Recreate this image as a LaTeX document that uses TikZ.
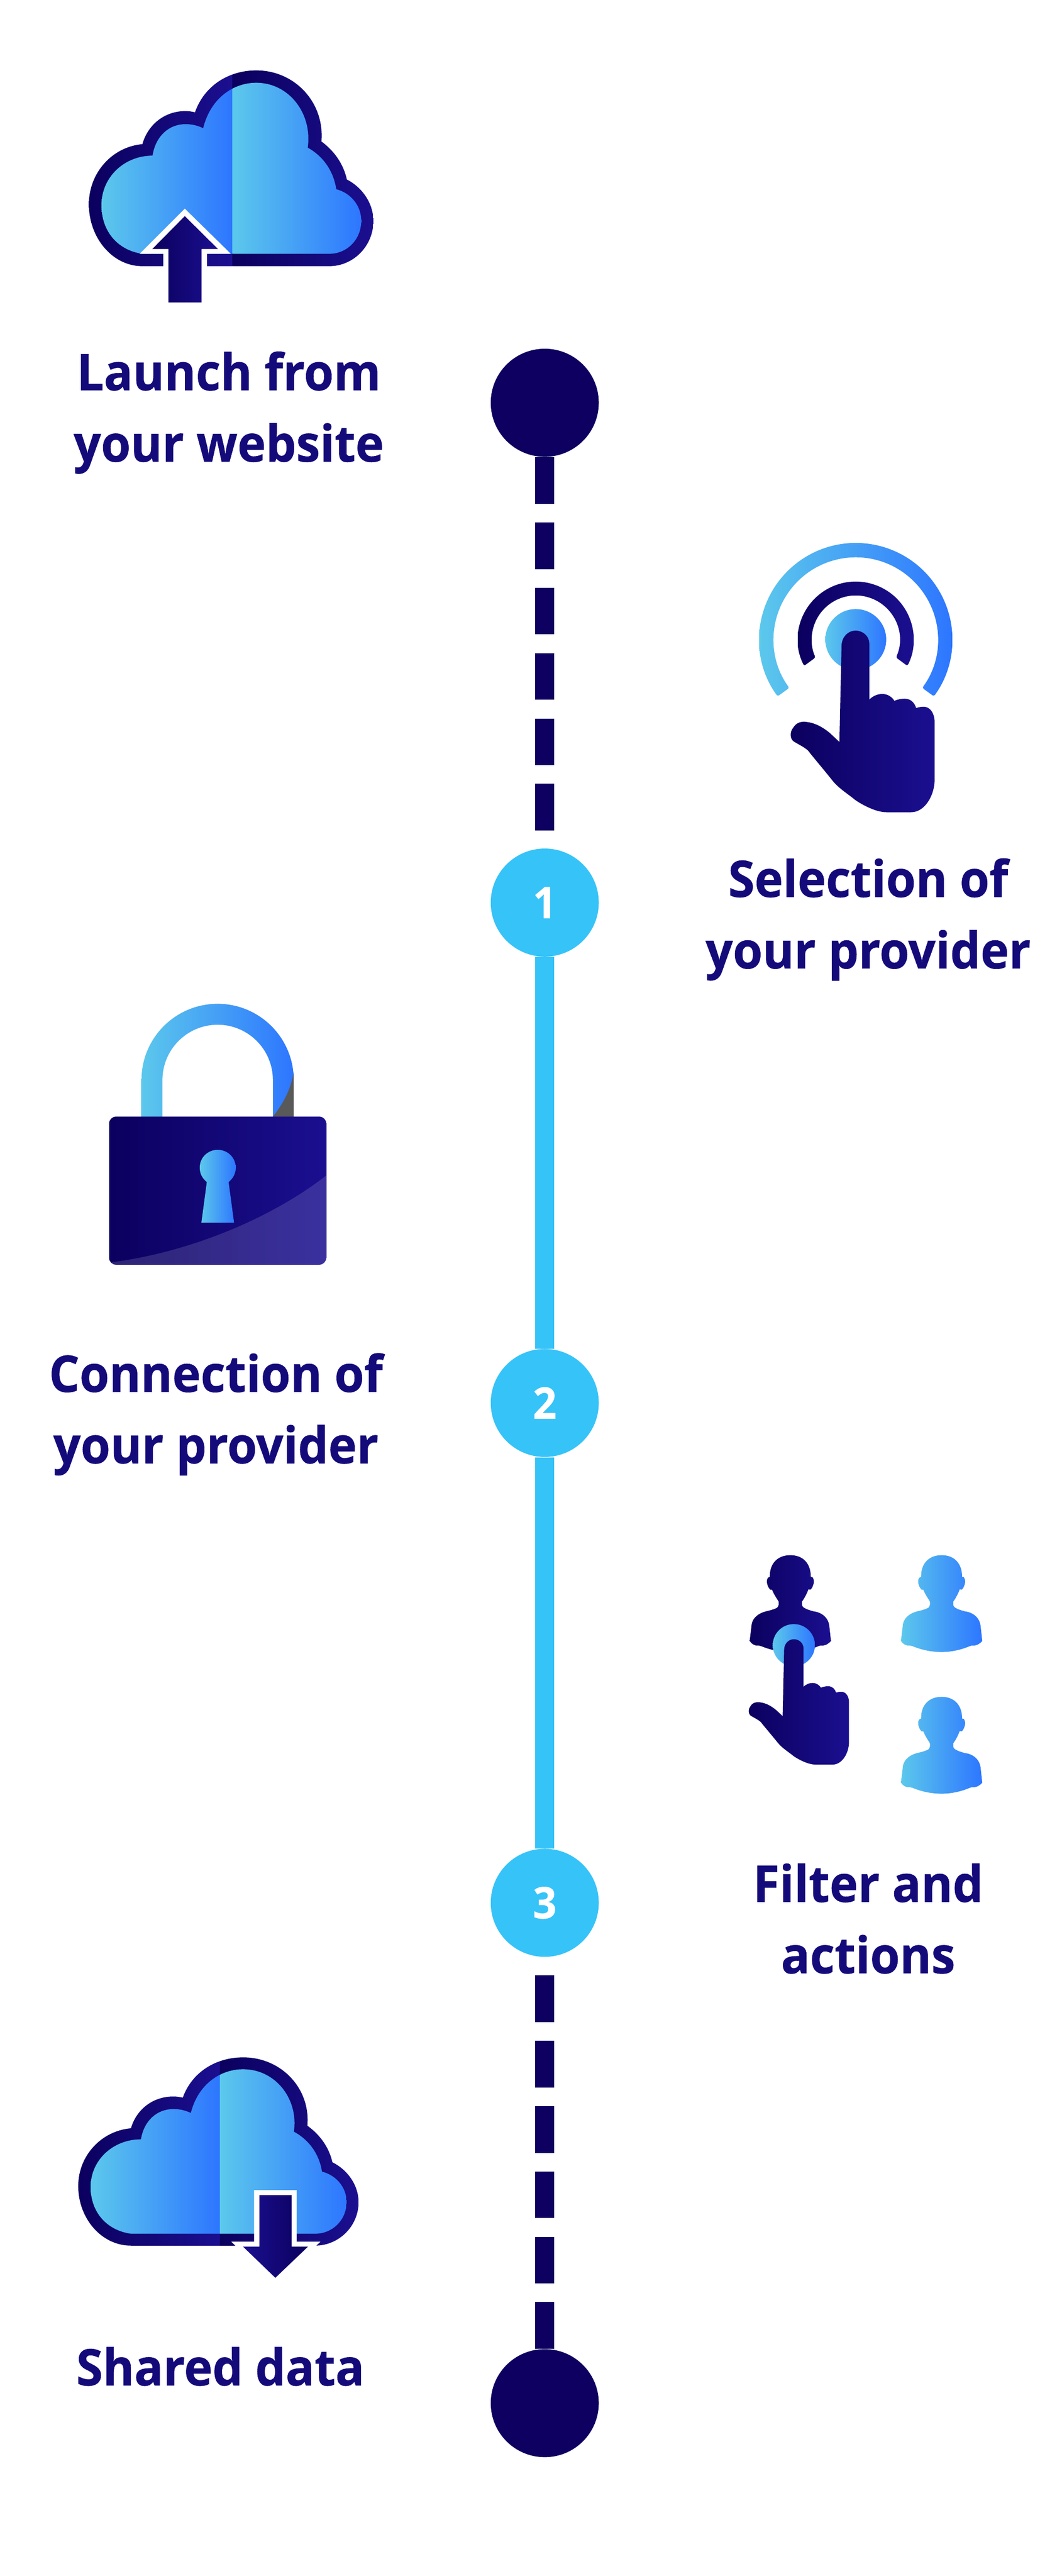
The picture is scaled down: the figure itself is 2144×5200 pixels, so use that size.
\documentclass[tikz,border=0pt]{standalone}
\usepackage{fontspec}
\setmainfont{Open Sans}[BoldFeatures={FakeStretch=0.95,FakeBold=0.6}]
\definecolor{lightg}{HTML}{5CC8EC}
\definecolor{blueg}{HTML}{2D76FF}
\definecolor{darka}{HTML}{0B005E}
\definecolor{darkb}{HTML}{1B0F90}
\definecolor{navy}{HTML}{0D0060}
\definecolor{sky}{HTML}{36C3F8}
\definecolor{txt}{HTML}{140A7A}
\newcommand{\gradfill}[7]{\begin{scope}\clip #1;\shade[left color=#6,right color=#7,draw=none] (#2,#3) rectangle (#4,#5);\end{scope}}
\newcommand{\cloudouter}{(420,1225) -- (1265,1225) .. controls (1375,1225) and (1465,1110) .. (1465,970) .. controls (1465,870) and (1415,780) .. (1345,735) .. controls (1330,650) and (1290,575) .. (1230,520) .. controls (1245,300) and (1110,118) .. (935,118) .. controls (810,118) and (700,205) .. (658,355) .. controls (645,351) and (630,348) .. (615,348) .. controls (520,348) and (445,425) .. (420,535) .. controls (285,550) and (178,695) .. (178,875) .. controls (178,1065) and (285,1225) .. (420,1225) -- cycle}
\newcommand{\cloudinner}{(420,1155) -- (1265,1155) .. controls (1345,1155) and (1410,1075) .. (1410,968) .. controls (1410,880) and (1360,810) .. (1297,790) .. controls (1285,690) and (1240,605) .. (1168,555) .. controls (1190,365) and (1085,188) .. (935,188) .. controls (835,188) and (730,270) .. (695,445) .. controls (670,430) and (645,422) .. (615,422) .. controls (540,422) and (480,490) .. (466,600) .. controls (340,600) and (235,720) .. (235,880) .. controls (235,1030) and (310,1135) .. (420,1155) -- cycle}
\newcommand{\cloudicon}{%
 \gradfill{\cloudouter}{178}{100}{828}{1240}{darka}{darkb}%
 \gradfill{\cloudouter}{828}{100}{1465}{1240}{darka}{darkb}%
 \gradfill{\cloudinner}{235}{180}{828}{1160}{lightg}{blueg}%
 \gradfill{\cloudinner}{828}{180}{1410}{1160}{lightg}{blueg}}
\newcommand{\handpath}{(735,1195) -- (748,690) .. controls (748,640) and (790,608) .. (832,608) .. controls (880,608) and (916,640) .. (916,675) -- (916,972) .. controls (940,950) and (970,942) .. (995,942) .. controls (1030,942) and (1055,960) .. (1068,978) .. controls (1090,970) and (1110,967) .. (1130,967) .. controls (1170,967) and (1190,990) .. (1200,1016) .. controls (1220,1010) and (1240,1008) .. (1255,1010) .. controls (1290,1015) and (1312,1050) .. (1312,1090) -- (1312,1390) .. controls (1312,1480) and (1250,1565) .. (1170,1565) -- (1020,1565) .. controls (960,1565) and (880,1530) .. (830,1500) .. controls (790,1470) and (730,1440) .. (690,1395) .. controls (640,1340) and (590,1290) .. (545,1240) .. controls (520,1220) and (480,1205) .. (455,1190) .. controls (435,1175) and (435,1140) .. (455,1120) .. controls (475,1090) and (510,1085) .. (540,1090) .. controls (590,1095) and (640,1120) .. (680,1150) -- cycle}
\newcommand{\personpath}{(452,288) .. controls (530,288) and (572,340) .. (572,415) -- (582,417) .. controls (592,430) and (592,450) .. (585,465) .. controls (580,480) and (572,490) .. (568,490) -- (558,488) .. controls (550,510) and (535,540) .. (520,560) -- (520,575) .. controls (520,590) and (530,595) .. (540,600) .. controls (560,610) and (585,617) .. (605,620) .. controls (645,630) and (675,660) .. (680,700) -- (690,790) .. controls (675,808) and (655,820) .. (630,817) -- (618,820) .. controls (560,845) and (500,855) .. (452,855) .. controls (400,855) and (340,845) .. (280,820) -- (265,817) .. controls (245,820) and (225,808) .. (214,790) -- (226,690) .. controls (235,650) and (270,628) .. (305,618) .. controls (330,612) and (360,605) .. (375,595) .. controls (385,585) and (385,575) .. (383,558) .. controls (368,535) and (355,515) .. (345,490) -- (335,490) .. controls (325,480) and (315,465) .. (315,440) .. controls (315,425) and (322,417) .. (332,415) .. controls (330,340) and (375,288) .. (452,288) -- cycle}
\tikzset{
 stop/.style={circle,fill=navy,minimum size=2.18cm,inner sep=0pt},
 numstop/.style={circle,fill=sky,minimum size=2.18cm,inner sep=0pt,text=white,font=\fontsize{25}{25}\selectfont\bfseries},
 dashlink/.style={draw=navy,line width=0.38cm,dash pattern=on 0.94cm off 0.378cm},
 solidlink/.style={draw=sky,line width=0.38cm},
 title/.style={text=txt,align=center,inner sep=0pt,font=\fontsize{29}{41}\selectfont\bfseries},
}
\begin{document}
\begin{tikzpicture}[x=0.01cm,y=-0.01cm]
\useasboundingbox (0,0) rectangle (2144,5200);
% timeline
\node[stop] (c0) at (1100,813) {};
\node[numstop] (c1) at (1100,1822) {1};
\node[numstop] (c2) at (1100,2832) {2};
\node[numstop] (c3) at (1100,3841) {3};
\node[stop] (c4) at (1100,4851) {};
\draw[dashlink] (c0.south) -- (c1.north);
\draw[solidlink] (c1.south) -- (c2.north);
\draw[solidlink] (c2.south) -- (c3.north);
\draw[dashlink] (c4.north) -- (c3.south);
% labels
\node[title] (t0) at (462,833) {Launch from\\your website};
\node[title] (t1) at (1753,1856) {Selection of\\your provider};
\node[title] (t2) at (436,2855) {Connection of\\your provider};
\node[title] (t3) at (1753,3873) {Filter and\\actions};
\node[title] (t4) at (445,4777) {Shared data};
% cloud up
\begin{scope}[shift={(100,100)},xscale=0.4464,yscale=0.357]
 \cloudicon
 \fill[white] (612,900) -- (408,1155) -- (515,1155) -- (515,1455) -- (712,1455) -- (712,1155) -- (820,1155) -- cycle;
 \gradfill{(612,942) -- (465,1128) -- (538,1128) -- (538,1430) -- (688,1430) -- (688,1128) -- (762,1128) -- cycle}{465}{900}{762}{1440}{darka}{darkb}
\end{scope}
% touch icon
\begin{scope}[shift={(1728,1291)}]
 \gradfill{[rounded corners=1pt] (144:195) arc[start angle=144,end angle=396,radius=195] -- (36:166) arc[start angle=396,end angle=144,radius=166] -- cycle}{-195}{-200}{195}{130}{lightg}{blueg}
 \gradfill{[rounded corners=1pt] (153:117) arc[start angle=153,end angle=387,radius=117] -- (24:89) arc[start angle=384,end angle=156,radius=89] -- cycle}{-117}{-120}{117}{60}{darka}{darkb}
 \gradfill{(0,0) circle[radius=61.5]}{-62}{-62}{62}{62}{lightg}{blueg}
\end{scope}
\begin{scope}[shift={(1450,1040)},xscale=0.3333,yscale=0.3831]
 \gradfill{\handpath}{438}{600}{1315}{1570}{darka}{darkb}
\end{scope}
% lock
\gradfill{(285.7,2300) -- (285.7,2180) arc[start angle=180,end angle=360,radius=153.7] -- (593,2300) -- (551,2300) -- (551,2180) arc[start angle=360,end angle=180,radius=111.5] -- (328,2300) -- cycle}{285}{2020}{593}{2300}{lightg}{blueg}
\fill[black!65!white] (593.3,2163.6) -- (593.3,2260) -- (551,2260) -- (551,2254) .. controls (576.7,2222) and (588.3,2193) .. (593.3,2163.6) -- cycle;
\gradfill{[rounded corners=14*0.01cm] (220.3,2254) rectangle (658.7,2553)}{220}{2250}{659}{2555}{darka}{darkb}
\begin{scope}
 \clip[rounded corners=14*0.01cm] (220.3,2254) rectangle (658.7,2553);
 \fill[white,opacity=0.14] (658.7,2373) .. controls (560,2450) and (400,2525) .. (226,2548) -- (226,2560) -- (660,2560) -- cycle;
\end{scope}
\begin{scope}[shift={(180,1960)},xscale=0.3333,yscale=0.3636]
 \gradfill{(713,1172) .. controls (685,1150) and (670,1125) .. (670,1092) .. controls (670,1035) and (720,993) .. (779,993) .. controls (838,993) and (888,1035) .. (888,1092) .. controls (888,1125) and (873,1150) .. (845,1172) -- (878,1398) -- (680,1398) -- cycle}{670}{990}{888}{1400}{lightg}{blueg}
\end{scope}
% people
\begin{scope}[shift={(1440,3040)},xscale=0.3448,yscale=0.3448]
 \gradfill{\personpath}{214}{280}{690}{860}{darka}{darkb}
\end{scope}
\begin{scope}[shift={(1745.5,3040)},xscale=0.3448,yscale=0.3448]
 \gradfill{\personpath}{214}{280}{690}{860}{lightg}{blueg}
\end{scope}
\begin{scope}[shift={(1745.5,3326)},xscale=0.3448,yscale=0.3448]
 \gradfill{\personpath}{214}{280}{690}{860}{lightg}{blueg}
\end{scope}
\gradfill{(1603,3321) circle[radius=42.6]}{1560}{3278}{1646}{3364}{lightg}{blueg}
\begin{scope}[shift={(1409.6,3148.2)},xscale=0.2323,yscale=0.2644]
 \gradfill{\handpath}{438}{600}{1315}{1570}{darka}{darkb}
\end{scope}
% cloud down
\begin{scope}[shift={(79.7,4112.5)},xscale=0.4398,yscale=0.3433]
 \cloudicon
\end{scope}
\fill[white] (513,4421) -- (599,4421) -- (599,4525) -- (647,4525) -- (556,4613) -- (467,4525) -- (513,4525) -- cycle;
\gradfill{(523.7,4431) -- (589,4431) -- (589,4535) -- (622,4535) -- (556,4598) -- (490.7,4535) -- (523.7,4535) -- cycle}{490}{4430}{622}{4600}{darkb}{darka}
\end{tikzpicture}
\end{document}
